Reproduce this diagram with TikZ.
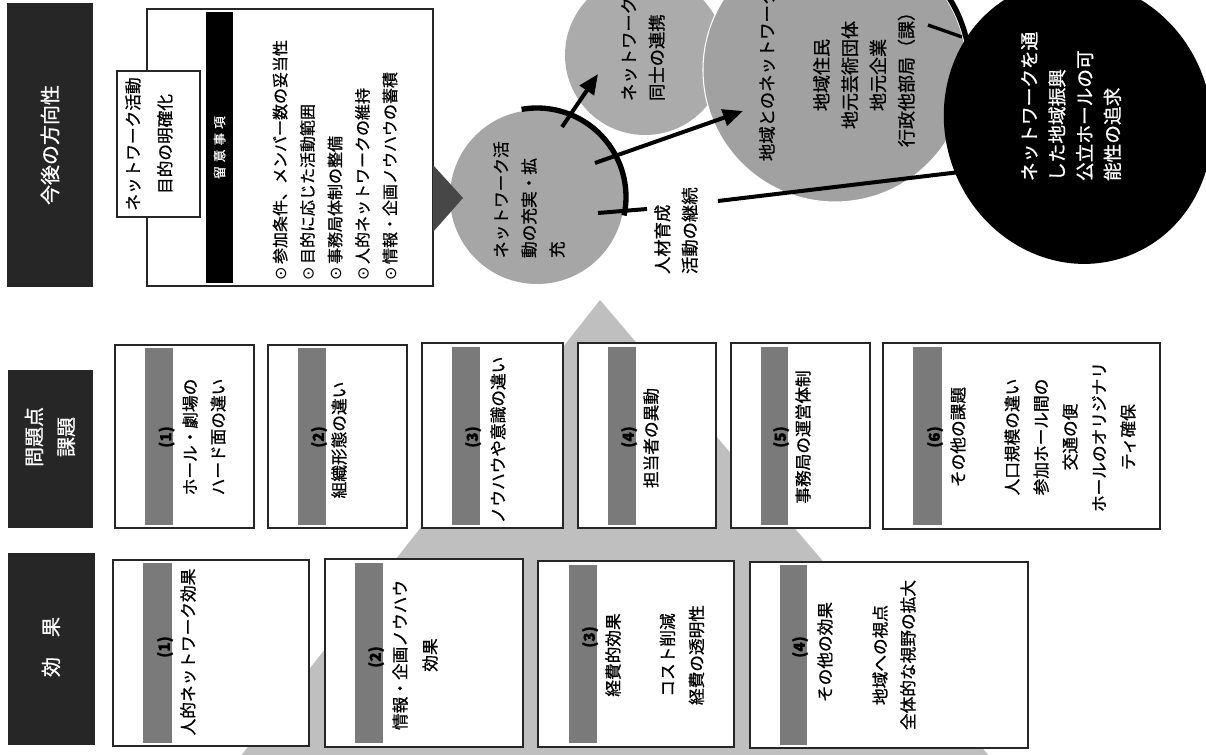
\documentclass[tikz,border=0pt]{standalone}
\usepackage{fontspec}
\setmainfont{Noto Sans CJK JP}[FakeBold=0.9]
\newfontfamily\symf{DejaVu Sans}
\usetikzlibrary{fit,arrows.meta,shapes.geometric}
\begin{document}
\begin{tikzpicture}[x=0.75pt,y=-0.75pt,
  every node/.style={inner sep=0pt, outer sep=0pt},
  txt/.style={rotate=90, font=\fontsize{12.5}{21}\selectfont},
  ctxt/.style={txt, align=center},
  ltxt/.style={txt, align=left, anchor=west},
  numtxt/.style={rotate=90, font=\bfseries\fontsize{11.5}{12}\selectfont},
  titlebox/.style={fill=black!85},
  ttxt/.style={rotate=90, text=white, align=center, font=\fontsize{15}{24}\selectfont},
  wbox/.style={draw=black!85, line width=0.8pt, fill=white},
  stripe/.style={fill=black!52},
  gcircle/.style={circle, fill=black!35},
  arr/.style={line width=3pt, -{Triangle[length=15pt,width=12.5pt]}},
  conn/.style={line width=3pt},
]
\path[use as bounding box] (0,0) rectangle (1206,755);
\clip (0,0) rectangle (1206,755);
\fill[white] (0,0) rectangle (1206,755);

% background pyramid
\fill[black!25] (600,300) -- (240,757) -- (990,757) -- cycle;

% title column
\node[titlebox, fit={(7,3)(93,287)}] (t1) {};
\node[ttxt] at (t1) {今後の方向性};
\node[titlebox, fit={(8,370)(93,528)}] (t2) {};
\node[ttxt] at (50,437) {問題点\\課題};
\node[titlebox, fit={(8,553)(95,745)}] (t3) {};
\node[ttxt] at (51,647) {効　果};

% big box with notes
\node[wbox, line width=1.1pt, fit={(147,9)(433,286)}] (bb) {};
\node[fill=black, fit={(206,12)(233,283)}] (bar) {};
\node[rotate=90, text=white, font=\fontsize{9.5}{10}\selectfont] at (bar) {留\hspace{3pt}意\hspace{3pt}事\hspace{3pt}項};
\node[wbox, line width=1pt, fit={(117,71)(200,217)}] (sb) {};
\node[ctxt, font=\fontsize{12.5}{24}\selectfont] at (149,144) {ネットワーク活動\\目的の明確化};
\node[ltxt, font=\fontsize{12}{20.6}\selectfont] (bul) at (335,281)
  {{\symf ⊙} 参加条件、メンバー数の妥当性\\{\symf ⊙} 目的に応じた活動範囲\\{\symf ⊙} 事務局体制の整備\\{\symf ⊙} 人的ネットワークの維持\\{\symf ⊙} 情報・企画ノウハウの蓄積};

% circles
\node[gcircle, fill=black!33, minimum size=120pt] (c2) at (645,55) {};
\node[gcircle, fill=black!37, draw=white, line width=0.8pt, minimum size=198pt] (c3) at (835,70) {};
\draw[line width=4pt] plot[domain=12:50, samples=30] ({835+135*cos(\x)},{70-135*sin(\x)});
\node[ellipse, fill=black, minimum width=199.5pt, minimum height=214.5pt, rotate=20] (bk) at (1078,122) {};
\node[gcircle, minimum size=130.5pt] (c1) at (537,197) {};
\draw[line width=4pt] plot[domain=-12:100, samples=50] ({537+89*cos(\x)},{197-89*sin(\x)});
\fill[black!72] (433,165) -- (463,198) -- (433,232) -- cycle;

% connectors
\coordinate (a1s) at (562,127); \coordinate (a1e) at (598,74);
\draw[arr] (a1s) -- (a1e);
\coordinate (a2s) at (595,163); \coordinate (a2e) at (743,111);
\draw[arr] (a2s) -- (a2e);
\coordinate (l3s) at (598,213); \coordinate (l3a) at (647,209);
\coordinate (l3b) at (718,201); \coordinate (l3e) at (960,172);
\draw[conn] (l3s) -- (l3a);
\draw[conn] (l3b) -- (l3e);
\coordinate (s1) at (928,25); \coordinate (s2) at (962,37);
\draw[line width=2.5pt] (s1) -- (s2);

% circle texts
\node[ltxt] (c1t) at (529,258) {ネットワーク活\\動の充実・拡\\充};
\node[ltxt, font=\fontsize{13}{21}\selectfont] (c2t) at (643,101) {ネットワーク\\同士の連携};
\node[ltxt, font=\fontsize{13}{21}\selectfont] (c3t) at (767,161) {地域とのネットワーク};
\node[ctxt, font=\fontsize{13.5}{21.2}\selectfont] (c3d) at (864,75) {地域住民\\地元芸術団体\\地元企業\\行政他部局（課）};
\node[ltxt, text=white, font=\fontsize{14}{20.8}\selectfont] (bkt) at (1071,181) {ネットワークを通\\した地域振興\\公立ホールの可\\能性の追求};
\node[ltxt, font=\fontsize{13}{20.5}\selectfont] (lbl) at (676,274) {人材育成\\活動の継続};

% problem row
\node[wbox, fit={(115,345)(254,528)}] (p1) {};
\node[stripe, fit={(145,348)(173,525)}] (p1s) {};
\node[numtxt] at (166.5,437) {(1)};
\node[ctxt] at (204,437) {ホール・劇場の\\ハード面の違い};

\node[wbox, fit={(268,345)(407,528)}] (p2) {};
\node[stripe, fit={(298,348)(326,525)}] (p2s) {};
\node[numtxt] at (319,437) {(2)};
\node[ctxt] at (339,440) {組織形態の違い};

\node[wbox, fit={(422,343)(563,528)}] (p3) {};
\node[stripe, fit={(452,347)(480,525)}] (p3s) {};
\node[numtxt] at (473,437) {(3)};
\node[ctxt] at (498,440) {ノウハウや意識の違い};

\node[wbox, fit={(578,343)(716,528)}] (p4) {};
\node[stripe, fit={(608,347)(636,525)}] (p4s) {};
\node[numtxt] at (629,437) {(4)};
\node[ctxt] at (651,438) {担当者の異動};

\node[wbox, fit={(731,343)(870,528)}] (p5) {};
\node[stripe, fit={(761,347)(788,525)}] (p5s) {};
\node[numtxt] at (781,437) {(5)};
\node[ctxt] at (803,437) {事務局の運営体制};

\node[wbox, fit={(883,343)(1160,529)}] (p6) {};
\node[stripe, fit={(913,347)(942,525)}] (p6s) {};
\node[numtxt] at (935,437) {(6)};
\node[ctxt] at (958,437) {その他の課題};
\node[ctxt, font=\fontsize{12.5}{21.75}\selectfont] at (1070,437) {人口規模の違い\\参加ホール間の\\交通の便\\ホールのオリジナリ\\ティ確保};

% effect row
\node[wbox, fit={(113,560)(309,746)}] (e1) {};
\node[stripe, fit={(143,563)(172,743)}] (e1s) {};
\node[numtxt] at (165,647) {(1)};
\node[ctxt] at (188,652) {人的ネットワーク効果};

\node[wbox, fit={(325,559)(523,747)}] (e2) {};
\node[stripe, fit={(355,563)(383,743)}] (e2s) {};
\node[numtxt] at (376,657) {(2)};
\node[ctxt, font=\fontsize{12.5}{22.5}\selectfont] at (415,655) {情報・企画ノウハウ\\効果};

\node[wbox, fit={(538,561)(734,747)}] (e3) {};
\node[stripe, fit={(569,565)(597,743)}] (e3s) {};
\node[numtxt] at (590,637) {(3)};
\node[ctxt] at (613,655) {経費的効果};
\node[ctxt, font=\fontsize{12.5}{21.75}\selectfont] at (682,655) {コスト削減\\経費の透明性};

\node[wbox, fit={(750,562)(1028,748)}] (e4) {};
\node[stripe, fit={(780,565)(807,745)}] (e4s) {};
\node[numtxt] at (800,647) {(4)};
\node[ctxt] at (825,652) {その他の効果};
\node[ctxt, font=\fontsize{12.5}{21}\selectfont] at (894,655) {地域への視点\\全体的な視野の拡大};
\end{tikzpicture}
\end{document}
